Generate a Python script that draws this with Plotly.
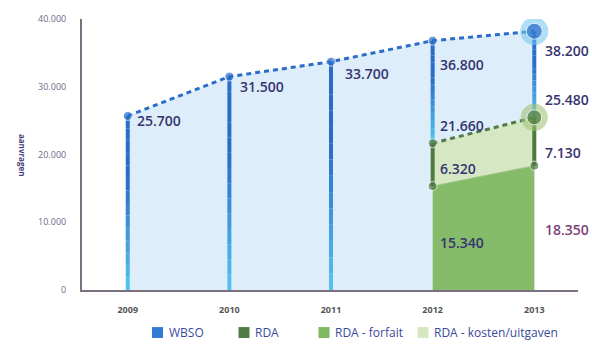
import plotly.graph_objects as go

# Aantallen aanvragen per jaar
years = [2009, 2010, 2011, 2012, 2013]
wbso = [25700, 31500, 33700, 36800, 38200]

rda_years = [2012, 2013]
rda_total = [21660, 25480]
rda_forfait = [15340, 18350]
rda_kosten = [6320, 7130]

y_ticks = [0, 10000, 20000, 30000, 40000]

legend_names = ["WBSO", "RDA", "RDA - forfait", "RDA - kosten/uitgaven"]
legend_colors = ["#3079d4", "#4f7d41", "#7fb862", "#d5e8c2"]

BLUE = "#2a6cc9"
BLUE_LIGHT = "#55c4f0"
GREEN_DARK = "#4d7a40"
GREEN_MID = "#86bb69"
GREEN_LIGHT = "#d6e8c3"
AREA_BLUE = "#ddeefa"
LABEL = "#363470"

# plot area geometry (px) used to place the hand-drawn legend
L, R, T, B, W, H = 82, 14, 16, 60, 592, 350
PW, PH = W - L - R, H - T - B


def px_x(p):
    return (p - L) / PW


def px_y(p):
    return (H - B - p) / PH


def fmt(v):
    return f"{v:,}".replace(",", ".")


def mix(c1, c2, t):
    a = [int(c1[i:i + 2], 16) for i in (1, 3, 5)]
    b = [int(c2[i:i + 2], 16) for i in (1, 3, 5)]
    return "#" + "".join(f"{round(a[k] + (b[k] - a[k]) * t):02x}" for k in range(3))


fig = go.Figure()

# WBSO area
fig.add_trace(go.Scatter(x=years, y=wbso, mode="lines", fill="tozeroy",
                         fillcolor=AREA_BLUE, line=dict(width=0), hoverinfo="skip"))
# RDA forfait area
fig.add_trace(go.Scatter(x=rda_years, y=rda_forfait, mode="lines", fill="tozeroy",
                         fillcolor=GREEN_MID, line=dict(width=1, color="#9cc985"),
                         hoverinfo="skip"))
# RDA kosten/uitgaven area stacked on forfait
fig.add_trace(go.Scatter(x=rda_years, y=rda_total, mode="lines", fill="tonexty",
                         fillcolor=GREEN_LIGHT, line=dict(width=0), hoverinfo="skip"))

# dotted connecting lines
fig.add_trace(go.Scatter(x=years, y=wbso, mode="lines",
                         line=dict(color=BLUE, width=3, dash="5px,4px"), hoverinfo="skip"))
fig.add_trace(go.Scatter(x=rda_years, y=rda_total, mode="lines",
                         line=dict(color="#557a4a", width=3, dash="5px,4px"), hoverinfo="skip"))

# vertical WBSO stems with a light-to-dark gradient
rda_lookup = dict(zip(rda_years, rda_total))
N = 14
for yr, top in zip(years, wbso):
    base = rda_lookup.get(yr, 0)
    for i in range(N):
        y0 = base + (top - base) * i / N
        y1 = base + (top - base) * (i + 1) / N
        t = min(1.0, ((i + 0.5) / N) * 1.6)
        fig.add_trace(go.Scatter(x=[yr, yr], y=[y0, y1], mode="lines",
                                 line=dict(color=mix(BLUE_LIGHT, BLUE, t), width=4),
                                 hoverinfo="skip"))

# RDA stems (kosten part)
for yr, lo, hi in zip(rda_years, rda_forfait, rda_total):
    fig.add_trace(go.Scatter(x=[yr, yr], y=[lo, hi], mode="lines",
                             line=dict(color=GREEN_DARK, width=4), hoverinfo="skip"))

# halo markers for 2013
fig.add_trace(go.Scatter(x=[years[-1]], y=[wbso[-1]], mode="markers",
                         marker=dict(size=28, color="rgba(110,195,240,0.55)"), hoverinfo="skip"))
fig.add_trace(go.Scatter(x=[rda_years[-1]], y=[rda_total[-1]], mode="markers",
                         marker=dict(size=27, color="rgba(160,195,120,0.6)"), hoverinfo="skip"))

# point markers
fig.add_trace(go.Scatter(x=years, y=wbso, mode="markers",
                         marker=dict(size=[9, 9, 9, 9, 16], color=BLUE), hoverinfo="skip"))
fig.add_trace(go.Scatter(x=rda_years + rda_years, y=rda_total + rda_forfait, mode="markers",
                         marker=dict(size=[9, 15, 9, 9], color=GREEN_DARK), hoverinfo="skip"))

# value labels
ann = []
wbso_shift = [(7, -5), (9, -10), (12, -12), (5, -24), (9, -19)]
for yr, v, (dx, dy) in zip(years, wbso, wbso_shift):
    ann.append(dict(x=yr, y=v, text=fmt(v), xshift=dx, yshift=dy))
for yr, v, dx in zip(rda_years, rda_total, (5, 9)):
    ann.append(dict(x=yr, y=v, text=fmt(v), xshift=dx, yshift=18))
for yr, f, k, dx, dyk, dyf in zip(rda_years, rda_forfait, rda_kosten, (5, 9), (18, 13), (-56, -64)):
    ann.append(dict(x=yr, y=f, text=fmt(k), xshift=dx, yshift=dyk))
    ann.append(dict(x=yr, y=f, text=fmt(f), xshift=dx, yshift=dyf,
                    font_color=("#7a3f78" if yr == 2013 else LABEL)))
annotations = []
for a in ann:
    d = dict(xref="x", yref="y", xanchor="left", yanchor="middle", showarrow=False,
             font=dict(size=14, color=a.pop("font_color", LABEL), family="Open Sans",
                       weight=600))
    d.update(a)
    annotations.append(d)

annotations.append(dict(xref="paper", yref="paper", x=-0.135, y=0.5, text="<b>aanvragen</b>",
                        textangle=90, showarrow=False,
                        font=dict(size=8, color="#4a3f7a", family="Open Sans")))

# legend row: swatch + label
shapes = []
legend_swatch_x = [157.5, 244, 324, 423]
legend_y = 333
for name, col, sx in zip(legend_names, legend_colors, legend_swatch_x):
    shapes.append(dict(type="rect", xref="paper", yref="paper",
                       x0=px_x(sx - 5.5), x1=px_x(sx + 5.5),
                       y0=px_y(legend_y + 5.5), y1=px_y(legend_y - 5.5),
                       fillcolor=col, line=dict(width=0)))
    annotations.append(dict(xref="paper", yref="paper", x=px_x(sx + 9), y=px_y(legend_y),
                            xanchor="left", yanchor="middle", text=name, showarrow=False,
                            font=dict(size=12, color="#3a4a9a", family="Open Sans")))

fig.update_layout(
    width=W, height=H,
    margin=dict(l=L, r=R, t=T, b=B),
    paper_bgcolor="white", plot_bgcolor="white",
    separators=",.",
    font=dict(family="Open Sans"),
    annotations=annotations,
    shapes=shapes,
    showlegend=False,
    xaxis=dict(range=[2008.55, 2013.43], tickvals=years,
               ticktext=[f"<b>{y}</b>" for y in years],
               showgrid=False, zeroline=False, showline=True,
               linecolor="#7a7080", linewidth=2, ticks="",
               ticklabelstandoff=10,
               tickfont=dict(size=9, color="#555555")),
    yaxis=dict(range=[0, 40000], tickvals=y_ticks, tickformat=",d",
               showgrid=False, zeroline=False, showline=True,
               linecolor="#7a7080", linewidth=2, ticks="",
               ticklabelstandoff=12,
               tickfont=dict(size=9, color="#6a6a8a")),
)

fig.write_html("out.html")
